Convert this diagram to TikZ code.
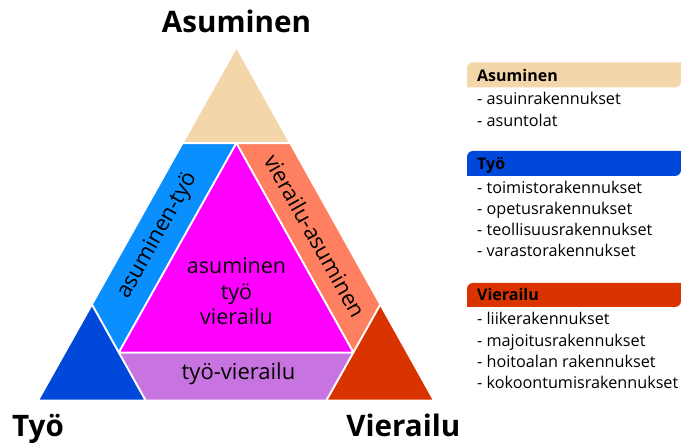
\documentclass[tikz,border=0pt]{standalone}
\usepackage{fontspec}
\setmainfont{Open Sans}
\usetikzlibrary{calc}

\definecolor{asumcol}{RGB}{243,214,170}
\definecolor{tyocol}{RGB}{0,72,217}
\definecolor{viercol}{RGB}{217,51,0}
\definecolor{asutyocol}{RGB}{10,143,255}
\definecolor{vierasucol}{RGB}{255,128,96}
\definecolor{kaikkicol}{RGB}{255,0,255}
\definecolor{tyoviercol}{RGB}{200,116,224}

\begin{document}
\begin{tikzpicture}[x=1pt,y=1pt]

 \tikzset{
    part/.style={draw=white, line width=1.8pt, line join=round},
    corner/.style={inner sep=0pt, font=\fontsize{29.6}{34}\selectfont\bfseries},
    band/.style={inner sep=0pt, font=\fontsize{22}{26}\selectfont},
    head/.style={anchor=base west, inner sep=0pt, font=\fontsize{16}{19}\selectfont\bfseries},
    item/.style={anchor=base west, inner sep=0pt, font=\fontsize{16.2}{19}\selectfont},
  }

  \useasboundingbox (0,0) rectangle (681,443);

  \coordinate (A) at (236.5,396);
  \coordinate (B) at (38,42.5);
  \coordinate (C) at (434,42.5);
  \coordinate (ab1) at ($(A)!0.272!(B)$);
  \coordinate (ab2) at ($(A)!0.728!(B)$);
  \coordinate (ac1) at ($(A)!0.272!(C)$);
  \coordinate (ac2) at ($(A)!0.728!(C)$);
  \coordinate (bc1) at ($(B)!0.272!(C)$);
  \coordinate (bc2) at ($(B)!0.728!(C)$);
  \coordinate (mA) at ($(ab1)!0.5!(ac1)$);
  \coordinate (mB) at ($(ab2)!0.5!(bc1)$);
  \coordinate (mC) at ($(ac2)!0.5!(bc2)$);

  \path[part, fill=asumcol] (A) -- (ab1) -- (ac1) -- cycle;
  \path[part, fill=tyocol] (B) -- (ab2) -- (bc1) -- cycle;
  \path[part, fill=viercol] (C) -- (ac2) -- (bc2) -- cycle;
  \path[part, fill=asutyocol] (ab1) -- (mA) -- (mB) -- (ab2) -- cycle;
  \path[part, fill=vierasucol] (ac1) -- (mA) -- (mC) -- (ac2) -- cycle;
  \path[part, fill=tyoviercol] (bc1) -- (mB) -- (mC) -- (bc2) -- cycle;
  \path[part, fill=kaikkicol] (mA) -- (mB) -- (mC) -- cycle;

  \node[corner, anchor=base] (asuminen) at (236.5,410) {Asuminen};
  \node[corner, anchor=base west] (tyo) at (12,6) {Työ};
  \node[corner, anchor=base east] (vierailu) at (460.5,6) {Vierailu};

  \node[band, rotate=60.7] (asutyo) at (157.5,207.2) {asuminen-työ};
  \node[band, rotate=-60.7] (vierasu) at (315,207.2) {vierailu-asuminen};
  \node[band, anchor=base] (tyovier) at (238.5,63) {työ-vierailu};
  \node[inner sep=0pt, align=center, font=\fontsize{21.5}{25.6}\selectfont] (kaikki) at (236.5,151.6) {asuminen\\työ\\vierailu};

  \path[fill=asumcol] (467,355.7) -- (467,374.7) arc[start angle=180, end angle=90, radius=6] -- (681,380.7) -- (681,361.7) arc[start angle=0, end angle=-90, radius=6] -- cycle;
  \path[fill=tyocol] (467,267) -- (467,286) arc[start angle=180, end angle=90, radius=6] -- (681,292) -- (681,273) arc[start angle=0, end angle=-90, radius=6] -- cycle;
  \path[fill=viercol] (467,136) -- (467,154) arc[start angle=180, end angle=90, radius=6] -- (681,160) -- (681,142) arc[start angle=0, end angle=-90, radius=6] -- cycle;

  \node[head] (asum-head) at (477,361.3) {Asuminen};
  \node[item] (asum-1) at (477,338) {- asuinrakennukset};
  \node[item] (asum-2) at (477,316.3) {- asuntolat};

  \node[head] (tyo-head) at (477,273.7) {Työ};
  \node[item] (tyo-1) at (477,249.7) {- toimistorakennukset};
  \node[item] (tyo-2) at (477,228.5) {- opetusrakennukset};
  \node[item] (tyo-3) at (477,207) {- teollisuusrakennukset};
  \node[item] (tyo-4) at (477,186) {- varastorakennukset};

  \node[head] (vier-head) at (477,142.3) {Vierailu};
  \node[item] (vier-1) at (477,118) {- liikerakennukset};
  \node[item] (vier-2) at (477,96.3) {- majoitusrakennukset};
  \node[item] (vier-3) at (477,75.7) {- hoitoalan rakennukset};
  \node[item] (vier-4) at (477,54.7) {- kokoontumisrakennukset};
\end{tikzpicture}
\end{document}
